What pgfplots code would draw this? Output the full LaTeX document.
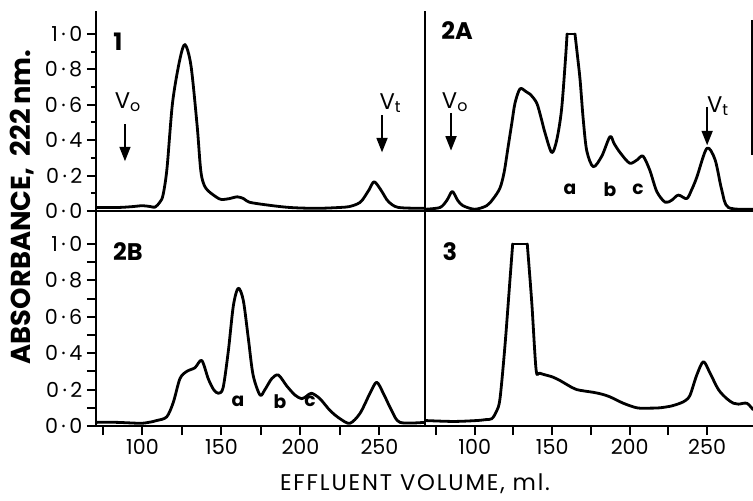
\documentclass[border=0pt]{standalone}
\usepackage{pgfplots}
\pgfplotsset{compat=1.18}
\usepackage{fontspec}
\setmainfont{Poppins}
\usetikzlibrary{arrows.meta}

\begin{document}
\begin{tikzpicture}[x=0.75pt,y=0.75pt]
\useasboundingbox (0,0) rectangle (753,500);
\tikzset{
  lab/.style={font=\bfseries\fontsize{18}{18}\selectfont},
  vlab/.style={font=\fontsize{17}{17}\selectfont},
  abc/.style={font=\bfseries\fontsize{14}{14}\selectfont},
  arr/.style={line width=2pt, -{Triangle[width=8pt,length=11pt]}},
  crv/.style={line width=2.1pt, black, smooth, tension=0.5, line join=round, line cap=round, mark=none},
}
\pgfplotsset{
  panel/.style={scale only axis, axis x line=bottom, axis y line=left,
    axis line style={-, line width=2.1pt, line cap=rect},
    clip mode=individual, tick align=outside,
    tick style={line width=1.5pt, black},
    major tick length=6.75pt, minor tick length=3.75pt,
    tick label style={font=\fontsize{15.5}{15}\selectfont}},
  leftp/.style={xmin=70.57, xmax=278.8, width=246.75pt, ymin=0,
    ytick={0,0.2,0.4,0.6,0.8,1.0}, yticklabels={0\,·\,0,0\,·\,2,0\,·\,4,0\,·\,6,0\,·\,8,1\,·\,0},
    minor ytick={0.1,0.3,0.5,0.7,0.9}},
  rightp/.style={xmin=67.9, xmax=279.6, width=246pt, ymin=0, ytick=\empty},
  topp/.style={height=149.25pt, ymax=1.124, xtick=\empty},
  botp/.style={height=161.25pt, ymax=1.181, xtick={100,150,200,250}, xticklabels={100,150,200,250}, minor xtick={75,125,175,225}, minor tick length=6.75pt},
}
% Panel 1
\begin{axis}[panel, leftp, topp, at={(72pt,216.75pt)}, anchor=south west]
\addplot[crv] coordinates {(71,0.02)(85,0.02)(94,0.025)(100,0.03)(105,0.025)(108,0.022)(111,0.05)(113,0.09)(115.5,0.24)(119,0.61)(123.5,0.85)(126.9,0.94)(130.7,0.82)(134.6,0.48)(137,0.22)(140,0.13)(146.5,0.08)(150,0.065)(155,0.07)(160,0.08)(164,0.07)(167.5,0.05)(178,0.035)(193,0.02)(210,0.015)(225,0.02)(231,0.025)(236,0.04)(239,0.06)(243.4,0.12)(246.6,0.165)(250.8,0.12)(253.5,0.08)(256,0.05)(262,0.02)(278.5,0.015)};
\node[lab] at (axis cs:84.5,0.955) {1};
\node[vlab] at (axis cs:90.8,0.616) {V\textsubscript{o}};
\draw[arr] (axis cs:88.9,0.49) -- (axis cs:88.9,0.28);
\node[vlab] at (axis cs:257,0.61) {V\textsubscript{t}};
\draw[arr] (axis cs:251.6,0.54) -- (axis cs:251.6,0.33);
\end{axis}
% Panel 2A
\begin{axis}[panel, rightp, topp, at={(318.75pt,216.75pt)}, anchor=south west]
\addplot[crv] coordinates {(68,0.01)(77.6,0.02)(82,0.06)(85.5,0.11)(89,0.06)(92.4,0.03)(100,0.01)(107.7,0.03)(112,0.07)(116.3,0.13)(119,0.22)(121.5,0.36)(124,0.5)(126,0.61)(129.2,0.69)(133,0.675)(135.7,0.66)(140,0.61)(143,0.52)(145.4,0.44)(149.7,0.33)(152.9,0.40)(156,0.57)(158.5,0.85)(159.6,1.0)};
\addplot[crv, sharp plot] coordinates {(159.6,1.0)(164.7,1.0)};
\addplot[crv] coordinates {(164.7,1.0)(166,0.9)(168,0.74)(170,0.52)(172.3,0.34)(176.5,0.25)(182,0.31)(187.3,0.42)(190,0.38)(193.8,0.33)(200,0.27)(205,0.29)(208.6,0.31)(213,0.23)(217.5,0.11)(222.8,0.05)(227,0.06)(231.4,0.09)(236.8,0.07)(240,0.12)(243.3,0.19)(249.8,0.354)(255.1,0.29)(259.4,0.12)(263.7,0.02)(279.6,0.01)};
\node[lab] at (axis cs:88.6,1.02) {2A};
\node[vlab] at (axis cs:87.3,0.616) {V\textsubscript{o}};
\draw[arr] (axis cs:84.7,0.554) -- (axis cs:84.7,0.34);
\node[vlab] at (axis cs:257,0.593) {V\textsubscript{t}};
\draw[arr] (axis cs:250,0.588) -- (axis cs:250,0.37);
\node[abc] at (axis cs:161.5,0.12) {a};
\node[abc] at (axis cs:187.3,0.12) {b};
\node[abc] at (axis cs:205.4,0.12) {c};
\draw[line width=2pt] (axis cs:279.0,1.08) -- (axis cs:279.0,0.316);
\end{axis}
% Panel 2B
\begin{axis}[panel, leftp, botp, at={(72pt,55.5pt)}, anchor=south west]
\addplot[crv] coordinates {(70.6,0.02)(83.7,0.02)(98.4,0.015)(104,0.02)(109,0.03)(115.3,0.05)(119.5,0.13)(123.7,0.26)(128,0.30)(133.2,0.32)(137.5,0.36)(141.6,0.26)(145,0.2)(148,0.18)(151,0.21)(154.3,0.41)(157.5,0.66)(160.6,0.757)(163.8,0.69)(167,0.48)(170,0.28)(174.4,0.17)(177.5,0.20)(181.8,0.26)(186,0.28)(191.3,0.22)(196.5,0.17)(200.8,0.15)(204,0.165)(207,0.18)(212.3,0.15)(218.7,0.085)(225,0.04)(231.3,0.015)(237.7,0.07)(244,0.18)(248.2,0.24)(252.4,0.18)(257.7,0.085)(263,0.02)(278.5,0.02)};
\node[lab] at (axis cs:90.8,0.956) {2B};
\node[abc] at (axis cs:160.4,0.134) {a};
\node[abc] at (axis cs:187,0.134) {b};
\node[abc] at (axis cs:206,0.134) {c};
\end{axis}
% Panel 3
\begin{axis}[panel, rightp, botp, at={(318.75pt,55.5pt)}, anchor=south west]
\addplot[crv] coordinates {(68,0.03)(86.2,0.025)(101.3,0.03)(107,0.035)(111,0.04)(114,0.08)(116.3,0.15)(119.5,0.44)(122.8,0.81)(124.5,1.0)};
\addplot[crv, sharp plot] coordinates {(124.5,1.0)(133.9,1.0)};
\addplot[crv] coordinates {(133.9,1.0)(136.8,0.68)(139.6,0.31)(142,0.29)(150,0.27)(155,0.25)(160,0.225)(165.8,0.20)(176.5,0.185)(182,0.175)(187.3,0.16)(195.9,0.125)(204.6,0.10)(212,0.098)(219.6,0.10)(227,0.11)(232.5,0.125)(236,0.14)(239,0.17)(243.3,0.28)(247.6,0.353)(251.9,0.29)(257.3,0.20)(262.7,0.15)(267,0.125)(270.2,0.12)(275.6,0.125)(279.6,0.09)};
\node[lab] at (axis cs:84,0.956) {3};
\end{axis}
\node[rotate=90, font=\bfseries\fontsize{20.5}{20}\selectfont] at (22,293) {ABSORBANCE,\ \ 222\,nm.};
\node[font=\fontsize{17}{17}\selectfont\addfontfeatures{LetterSpace=8}] at (415,16) {EFFLUENT VOLUME, ml.};
\end{tikzpicture}
\end{document}
